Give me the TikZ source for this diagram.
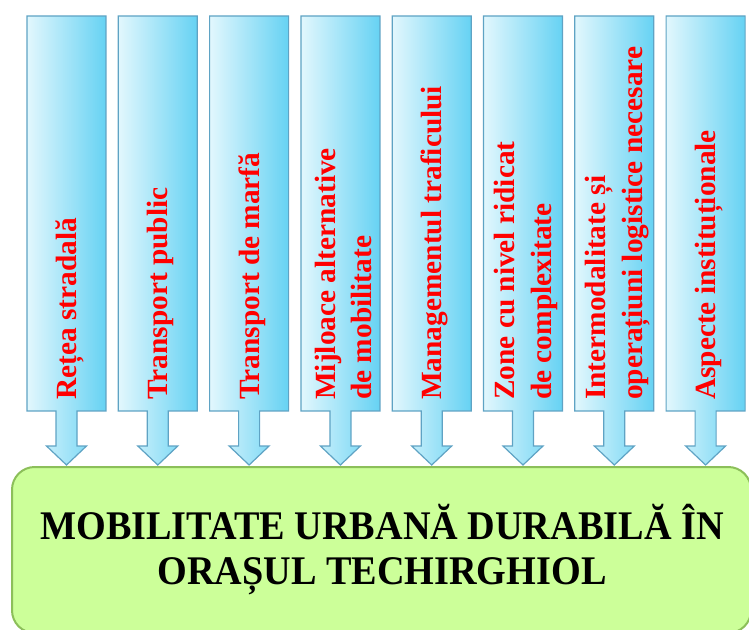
\documentclass[tikz,border=0pt]{standalone}
\usepackage{fontspec}
\setmainfont{Liberation Serif}
\newfontfamily\titlefont[FakeStretch=0.94]{Liberation Serif}
\definecolor{boxL}{HTML}{E2F7FD}
\definecolor{boxR}{HTML}{66D2F3}
\definecolor{boxB}{HTML}{5FA3C4}
\definecolor{grnF}{HTML}{CCFF99}
\definecolor{grnB}{HTML}{8CBF5A}
\tikzset{
  callout/.style={left color=boxL,right color=boxR,draw=boxB,line width=0.9pt,line join=miter},
  lbl/.style={rotate=90,anchor=west,inner sep=0pt,text=red,
    font=\bfseries\fontsize{22}{27.5}\selectfont,align=left},
  goalbox/.style={draw=grnB,fill=grnF,line width=1.5pt,rounded corners=17pt},
  goaltext/.style={inner sep=0pt,align=center,text=black,
    font=\titlefont\bfseries\fontsize{30.5}{33.75}\selectfont}
}
\begin{document}
\begin{tikzpicture}[x=0.75pt,y=-0.75pt]
\useasboundingbox (0,0) rectangle (749,630);
\clip (0,0) rectangle (749,630);
% goal box
\draw[goalbox] (12,467) rectangle (751,633);
\node[goaltext] (goal) at (382,550) {MOBILITATE URBANĂ DURABILĂ ÎN\\ORAȘUL TECHIRGHIOL};
% callout boxes
\foreach \i/\txt in {
  0/{Rețea stradală},
  1/{Transport public},
  2/{Transport de marfă},
  3/{Mijloace alternative\\de mobilitate},
  4/{Managementul traficului},
  5/{Zone cu nivel ridicat\\de complexitate},
  6/{Intermodalitate și\\operațiuni logistice necesare},
  7/{Aspecte instituționale}}{
  \pgfmathsetmacro{\L}{27+91.3*\i}
  \pgfmathsetmacro{\R}{\L+79}
  \pgfmathsetmacro{\c}{\L+39.5}
  \path[callout] (\L,16) -- (\R,16) -- (\R,411) -- (\c+10.5,411) -- (\c+10.5,446)
     -- (\c+20,446) -- (\c,465) -- (\c-20,446) -- (\c-10.5,446) -- (\c-10.5,411)
     -- (\L,411) -- cycle;
  \node[lbl] (t\i) at (\c+3,400) {\txt};
}
\end{tikzpicture}
\end{document}
